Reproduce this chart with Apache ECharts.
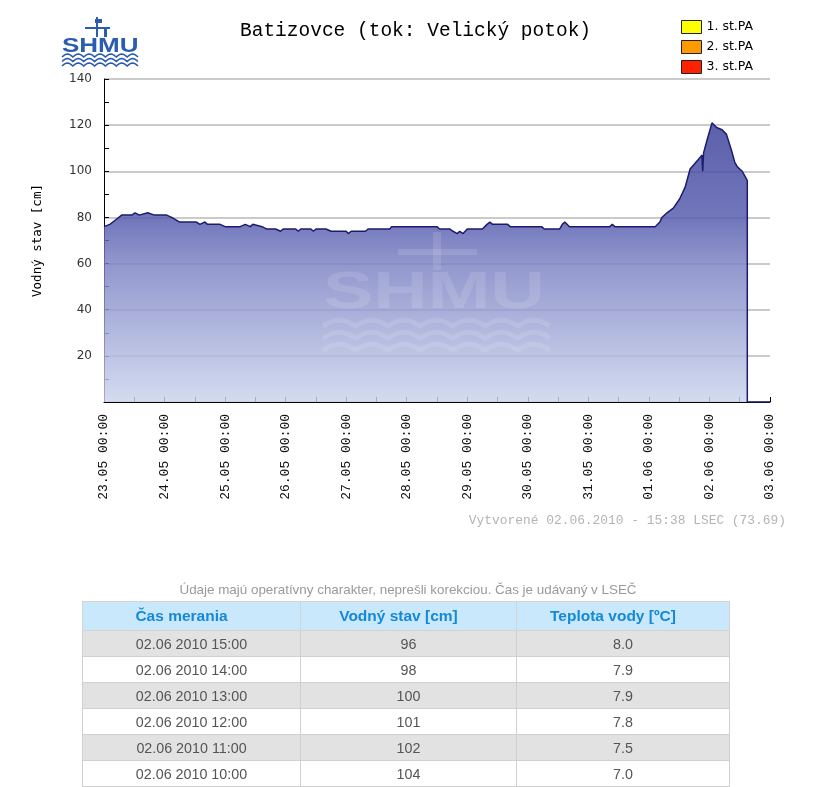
<!DOCTYPE html>
<html>
<head>
<meta charset="utf-8">
<script src="https://cdn.jsdelivr.net/npm/echarts@6/dist/echarts.min.js"></script>
<style>
  html, body { margin: 0; padding: 0; background: #fff; }
  #chart { position: absolute; left: 0; top: 0; width: 816px; height: 787px; }
  #note { position: absolute; left: 0; width: 816px; top: 582px; text-align: center;
          font: 13.4px "Liberation Sans", sans-serif; color: #9a9a9a; }
  #tbl { position: absolute; left: 82px; top: 601px; width: 648px; border-collapse: collapse;
         font-family: "Liberation Sans", sans-serif; }
  #tbl th { height: 28px; background: #c9e8fb; color: #1689d6; font-size: 15.5px; font-weight: bold;
            border: 1px solid #d4d4d4; padding: 0 20px 0 0; }
  #tbl td { height: 25px; text-align: center; color: #555; font-size: 14.3px; border: 1px solid #d0d0d0; padding: 0; }
  #tbl tr:nth-child(odd) td { background: #e2e2e2; }
  #tbl tr:nth-child(even) td { background: #ffffff; }
</style>
</head>
<body>
<div id="chart"></div>
<div id="note"></div>
<table id="tbl"><thead><tr id="thead"></tr></thead><tbody id="tbody"></tbody></table>
<script>
// ---- chart data ----
const titleText = 'Batizovce (tok: Velický potok)';
const yAxisName = 'Vodný stav [cm]';
const legendNames = ['1. st.PA', '2. st.PA', '3. st.PA'];
const legendColors = ['#ffff00', '#ff9900', '#ff2200'];
const footnote = 'Vytvorené 02.06.2010 - 15:38 LSEC (73.69)';
const xMin = '2010-05-23 00:00';
const xMax = '2010-06-03 00:00';

const times = [
  '2010-05-23 00:00','2010-05-23 02:20','2010-05-23 04:40','2010-05-23 07:00','2010-05-23 11:00',
  '2010-05-23 12:20','2010-05-23 14:00','2010-05-23 17:20','2010-05-23 20:00','2010-05-24 00:50',
  '2010-05-24 02:50','2010-05-24 06:00','2010-05-24 12:40','2010-05-24 14:00','2010-05-24 16:00',
  '2010-05-24 17:00','2010-05-24 22:00','2010-05-25 00:00','2010-05-25 06:00','2010-05-25 08:00',
  '2010-05-25 10:00','2010-05-25 11:00','2010-05-25 14:40','2010-05-25 16:20','2010-05-25 20:00',
  '2010-05-25 22:00','2010-05-25 23:00','2010-05-26 04:00','2010-05-26 05:00','2010-05-26 06:00',
  '2010-05-26 10:00','2010-05-26 11:00','2010-05-26 12:00','2010-05-26 16:00','2010-05-26 18:00',
  '2010-05-27 00:00','2010-05-27 00:50','2010-05-27 02:00','2010-05-27 07:40','2010-05-27 08:40',
  '2010-05-27 17:20','2010-05-27 18:00','2010-05-28 12:00','2010-05-28 13:00','2010-05-28 17:00',
  '2010-05-28 18:20','2010-05-28 20:00','2010-05-28 21:00','2010-05-28 22:20','2010-05-29 00:00',
  '2010-05-29 06:00','2010-05-29 07:50','2010-05-29 09:00','2010-05-29 10:00','2010-05-29 16:00',
  '2010-05-29 17:00','2010-05-30 05:30','2010-05-30 06:30','2010-05-30 12:40','2010-05-30 13:40',
  '2010-05-30 14:40','2010-05-30 16:30','2010-05-31 08:30','2010-05-31 09:30','2010-05-31 10:30',
  '2010-06-01 02:30','2010-06-01 04:20','2010-06-01 05:10','2010-06-01 07:10','2010-06-01 09:40',
  '2010-06-01 12:10','2010-06-01 14:20','2010-06-01 16:20','2010-06-01 19:30','2010-06-01 21:00',
  '2010-06-01 21:20','2010-06-01 21:40','2010-06-01 23:10','2010-06-02 01:00','2010-06-02 02:50',
  '2010-06-02 05:00','2010-06-02 06:45','2010-06-02 08:45','2010-06-02 10:00','2010-06-02 11:00',
  '2010-06-02 12:00','2010-06-02 13:00','2010-06-02 14:00','2010-06-02 15:00','2010-06-02 15:00',
  '2010-06-03 00:00'
];
const levels = [
  76,77,79,81,81,
  82,81,82,81,81,
  80,78,78,77,78,
  77,77,76,76,77,
  76,77,76,75,75,
  74,75,75,74,75,
  75,74,75,75,74,
  74,73,74,74,75,
  75,76,76,75,75,
  74,73,74,73,75,
  75,77,78,77,77,
  76,76,75,75,77,
  78,76,76,77,76,
  76,78,80,82,84,
  88,93,101,105,107,
  100,108,114,121,119,
  118,116,109,104,102,
  101,100,98,96,0,
  0
];

// ---- table data ----
const tableCaption = 'Údaje majú operatívny charakter, neprešli korekciou. Čas je udávaný v LSEČ';
const tableHeaders = ['Čas merania', 'Vodný stav [cm]', 'Teplota vody [ºC]'];
const tableTimes = ['02.06 2010 15:00','02.06 2010 14:00','02.06 2010 13:00','02.06 2010 12:00','02.06 2010 11:00','02.06 2010 10:00'];
const tableLevels = [96, 98, 100, 101, 102, 104];
const tableTemps = ['8.0', '7.9', '7.9', '7.8', '7.5', '7.0'];

// ---- helpers ----
function toUTC(s) {
  const [d, t] = s.split(' ');
  const [Y, M, D] = d.split('-').map(Number);
  const [h, m] = t.split(':').map(Number);
  return Date.UTC(Y, M - 1, D, h, m);
}
function pad(n) { return (n < 10 ? '0' : '') + n; }
const DAY = 86400000;

// table
document.getElementById('note').textContent = tableCaption;
document.getElementById('thead').innerHTML = tableHeaders.map(h => '<th>' + h + '</th>').join('');
document.getElementById('tbody').innerHTML = tableTimes.map((t, i) =>
  '<tr><td style="width:217px">' + t + '</td><td style="width:215px">' + tableLevels[i] +
  '</td><td>' + tableTemps[i] + '</td></tr>').join('');

// wave polyline helper (logo decoration only)
function wavePts(x0, y0, w, n, amp) {
  const pts = [];
  const steps = n * 8;
  for (let i = 0; i <= steps; i++) {
    const x = x0 + w * i / steps;
    pts.push([x, y0 - amp * Math.abs(Math.sin(Math.PI * n * i / steps))]);
  }
  return pts;
}

const chart = echarts.init(document.getElementById('chart'), null, { renderer: 'canvas' });
const seriesData = times.map((t, i) => [toUTC(t), levels[i]]);

const logoBlue = '#2b5cb0';
const wm = 'rgba(255,255,255,0.12)';

function waveGraphic(x0, y0, w, n, amp, color, lw, z) {
  return { type: 'polyline', z: z || 1, shape: { points: wavePts(x0, y0, w, n, amp) }, style: { stroke: color, fill: null, lineWidth: lw } };
}

chart.setOption({
  backgroundColor: '#fff',
  animation: false,
  title: {
    text: titleText, left: 235, top: 16,
    textStyle: { fontFamily: 'Liberation Mono', fontSize: 19.5, fontWeight: 'normal', color: '#000' }
  },
  legend: {
    orient: 'vertical', left: 676, top: 15, itemGap: 6,
    itemWidth: 20, itemHeight: 13, icon: 'rect', selectedMode: false,
    data: legendNames.map((n, i) => ({ name: n, itemStyle: { color: legendColors[i], borderColor: '#222', borderWidth: 1 } })),
    textStyle: { fontFamily: 'DejaVu Sans', fontSize: 12.5, color: '#000' }
  },
  grid: { left: 104, right: 46, top: 79, bottom: 385 },
  xAxis: {
    type: 'value', min: toUTC(xMin), max: toUTC(xMax), interval: DAY,
    axisLine: { show: true, lineStyle: { color: '#000', width: 1 } },
    axisTick: { show: true, inside: true, length: 5, lineStyle: { color: '#000' } },
    minorTick: { show: true, splitNumber: 2, length: 5, lineStyle: { color: '#000' } },
    splitLine: { show: false },
    axisLabel: {
      rotate: 90, margin: 12, fontFamily: 'Liberation Mono', fontSize: 13, color: '#111',
      formatter: v => { const d = new Date(v); return pad(d.getUTCDate()) + '.' + pad(d.getUTCMonth() + 1) + ' ' + pad(d.getUTCHours()) + ':' + pad(d.getUTCMinutes()); }
    }
  },
  yAxis: {
    type: 'value', min: 0, max: 140, interval: 20,
    name: yAxisName, nameLocation: 'middle', nameGap: 60, nameRotate: 90,
    nameTextStyle: { fontFamily: 'DejaVu Sans Mono', fontSize: 12.5, color: '#000' },
    axisLine: { show: true, lineStyle: { color: '#000', width: 1 } },
    axisTick: { show: true, inside: true, length: 5, lineStyle: { color: '#000' } },
    minorTick: { show: true, splitNumber: 2, length: 5, lineStyle: { color: '#000' } },
    splitLine: { show: true, lineStyle: { color: '#b9b9b9', width: 1.5 } },
    axisLabel: { margin: 12, fontFamily: 'DejaVu Sans', fontSize: 12, color: '#333', formatter: v => v === 0 ? '' : v }
  },
  series: [
    {
      type: 'line', name: 'Vodný stav', data: seriesData, showSymbol: false, z: 3,
      lineStyle: { color: '#1c1c6e', width: 1.5 },
      itemStyle: { color: '#1c1c6e' },
      areaStyle: {
        opacity: 0.82,
        color: new echarts.graphic.LinearGradient(0, 0, 0, 1, [
          { offset: 0, color: '#383c97' },
          { offset: 0.35, color: '#545aad' },
          { offset: 0.5, color: '#797fc2' },
          { offset: 1, color: '#cad4ed' }
        ])
      }
    }
  ].concat(legendNames.map((n, i) => ({ type: 'line', name: n, data: [], itemStyle: { color: legendColors[i] } }))),
  graphic: [
    // SHMU logo (top-left)
    { type: 'line', shape: { x1: 97, y1: 17, x2: 97, y2: 37 }, style: { stroke: logoBlue, lineWidth: 2 } },
    { type: 'line', shape: { x1: 85, y1: 28, x2: 110, y2: 28 }, style: { stroke: logoBlue, lineWidth: 2 } },
    { type: 'rect', shape: { x: 95, y: 19, width: 7, height: 4 }, style: { fill: logoBlue } },
    { type: 'rect', shape: { x: 104, y: 29, width: 3, height: 8 }, style: { fill: logoBlue } },
    { type: 'text', x: 62, y: 36, scaleX: 1.3, style: { text: 'SHMU', font: 'bold 20px "Liberation Sans"', fill: logoBlue } },
    waveGraphic(62, 57, 76, 7, 3, logoBlue, 1.6),
    waveGraphic(62, 61.5, 76, 7, 3, logoBlue, 1.6),
    waveGraphic(62, 66, 76, 7, 3, logoBlue, 1.6),
    // faint watermark in plot
    { type: 'line', z: 10, shape: { x1: 437, y1: 232, x2: 437, y2: 270 }, style: { stroke: wm, lineWidth: 8 } },
    { type: 'line', z: 10, shape: { x1: 398, y1: 252, x2: 477, y2: 252 }, style: { stroke: wm, lineWidth: 6 } },
    { type: 'text', z: 10, x: 323, y: 268, scaleX: 1.45, style: { text: 'SHMU', font: 'bold 52px "Liberation Sans"', fill: wm } },
    waveGraphic(323, 326, 227, 7, 6, wm, 5, 10),
    waveGraphic(323, 338, 227, 7, 6, wm, 5, 10),
    waveGraphic(323, 350, 227, 7, 6, wm, 5, 10),
    // creation note
    { type: 'text', right: 30, top: 514, style: { text: footnote, font: '12.9px "Liberation Mono"', fill: '#b4b4b4' } }
  ]
});
</script>
</body>
</html>
